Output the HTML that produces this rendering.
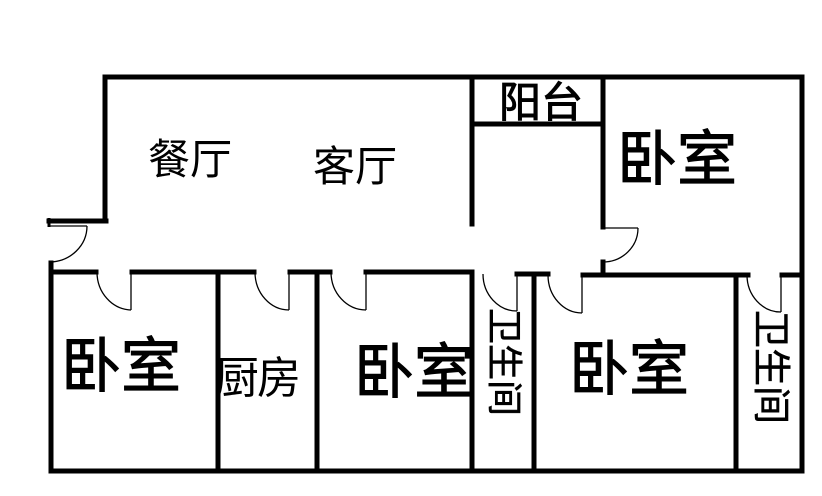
<!DOCTYPE html>
<html><head><meta charset="utf-8"><style>
html,body{margin:0;padding:0;background:#fff}
.t{position:absolute;font-family:"Liberation Sans","Noto Sans CJK SC",sans-serif;color:#000;line-height:1;white-space:nowrap}
.v{writing-mode:vertical-rl;text-orientation:sideways}
.s{-webkit-text-stroke:1px #000}
</style></head><body>
<div style="position:relative;width:822px;height:496px;overflow:hidden">
<svg width="822" height="496" style="position:absolute;left:0;top:0">
<g stroke="#000" stroke-width="5" fill="none" stroke-linecap="square">
<line x1="105" y1="77" x2="802" y2="77"/>
<line x1="105" y1="77" x2="105" y2="221"/>
<line x1="49" y1="221" x2="106" y2="221"/>
<line x1="51" y1="263" x2="51" y2="471"/>
<line x1="51" y1="471" x2="802" y2="471"/>
<line x1="802" y1="77" x2="802" y2="471"/>
<line x1="51" y1="272" x2="96" y2="272"/>
<line x1="132" y1="272" x2="254" y2="272"/>
<line x1="290" y1="272" x2="330" y2="272"/>
<line x1="366" y1="272" x2="471" y2="272"/>
<line x1="517" y1="274" x2="548" y2="274"/>
<line x1="583" y1="275" x2="748" y2="275"/>
<line x1="782" y1="275" x2="802" y2="275"/>
<line x1="218" y1="272" x2="218" y2="471"/>
<line x1="317" y1="272" x2="317" y2="471"/>
<line x1="472" y1="272" x2="472" y2="471"/>
<line x1="534" y1="274" x2="534" y2="471"/>
<line x1="736" y1="275" x2="736" y2="471"/>
<line x1="472" y1="77" x2="472" y2="224"/>
<line x1="472" y1="124" x2="603" y2="124"/>
<line x1="603" y1="77" x2="603" y2="227"/>
<line x1="603" y1="262" x2="603" y2="275"/>
</g>
<g stroke="#000" stroke-width="1.3" fill="none">
<line x1="49" y1="226" x2="87" y2="226"/>
<path d="M87,226 A38,36 0 0 1 50,262"/>
<line x1="49" y1="218" x2="49" y2="227" stroke-width="3"/>
<line x1="131" y1="272" x2="131" y2="310"/>
<path d="M97,272 A35,38 0 0 0 131,310"/>
<line x1="289" y1="272" x2="289" y2="310"/>
<path d="M255,272 A34,38 0 0 0 289,310"/>
<line x1="366" y1="272" x2="366" y2="310"/>
<path d="M331,272 A35,38 0 0 0 366,310"/>
<line x1="517" y1="274" x2="517" y2="311"/>
<path d="M483,274 A34,37 0 0 0 517,311"/>
<line x1="582" y1="275" x2="582" y2="313"/>
<path d="M548,275 A34,38 0 0 0 582,313"/>
<line x1="781" y1="275" x2="781" y2="312"/>
<path d="M747,275 A34,37 0 0 0 781,312"/>
<line x1="603" y1="228" x2="638" y2="228"/>
<path d="M638,228 A35,34 0 0 1 603,262"/>
</g>
</svg>
<div class="t" style="left:148px;top:139px;font-size:42px">餐厅</div>
<div class="t" style="left:313px;top:146px;font-size:42px">客厅</div>
<div class="t s" style="left:499px;top:82px;font-size:42px">阳台</div>
<div class="t s" style="left:617px;top:130px;font-size:60px">卧室</div>
<div class="t s" style="left:61px;top:337px;font-size:60px">卧室</div>
<div class="t" style="left:215px;top:357px;font-size:44px;letter-spacing:-2px">厨房</div>
<div class="t s" style="left:354px;top:343px;font-size:60px">卧室</div>
<div class="t s" style="left:569px;top:340px;font-size:60px">卧室</div>
<div class="t v s" style="left:486px;top:308px;font-size:36px;-webkit-text-stroke:0.6px #000">卫生间</div>
<div class="t v s" style="left:751px;top:310px;font-size:38px;-webkit-text-stroke:0.6px #000">卫生间</div>
</div>
</body></html>
